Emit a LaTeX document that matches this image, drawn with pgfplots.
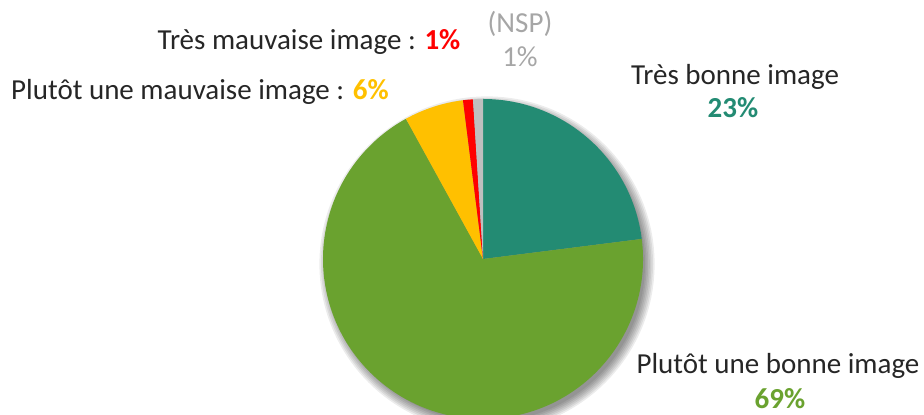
\documentclass[border=0pt]{standalone}
\usepackage{pgfplots}
\usepackage{pgfplotstable}
\pgfplotsset{compat=1.18}
\usepackage{fontspec}
\setmainfont{Carlito}
\definecolor{cTeal}{RGB}{35,139,115}
\definecolor{cGreen}{RGB}{106,162,47}
\definecolor{cYellow}{RGB}{255,192,0}
\definecolor{cRed}{RGB}{255,0,0}
\definecolor{cGray}{RGB}{191,191,191}
\definecolor{cNSP}{RGB}{166,166,166}
\definecolor{cText}{RGB}{38,38,38}

% share of each answer, in percent, clockwise from the top
\pgfplotstableread{
value colour
23 cTeal
69 cGreen
6 cYellow
1 cRed
1 cGray
}\piedata

\pgfplotstablegetrowsof{\piedata}
\pgfmathtruncatemacro{\nrows}{\pgfplotsretval-1}
\def\cumangle{90}
\foreach \i in {0,...,\nrows}{
  \pgfplotstablegetelem{\i}{value}\of\piedata
  \pgfmathsetmacro{\endangle}{\cumangle-3.6*\pgfplotsretval}
  \expandafter\xdef\csname sa\i\endcsname{\cumangle}
  \expandafter\xdef\csname ea\i\endcsname{\endangle}
  \pgfplotstablegetelem{\i}{colour}\of\piedata
  \expandafter\xdef\csname col\i\endcsname{\pgfplotsretval}
  \xdef\cumangle{\endangle}
}

\begin{document}
\begin{tikzpicture}
\begin{axis}[
  hide axis, scale only axis,
  x=0.5pt, y=0.5pt,
  xmin=0, xmax=924, ymin=0, ymax=415,
  clip=true,
  nodes={font=\fontsize{14.5}{17}\selectfont, text=cText, inner sep=0pt},
]
% soft shadow
\pgfplotsinvokeforeach{0,1,2,3,4,5,6}{
  \fill[black, opacity=0.075] (axis cs:487,151) circle[radius={79pt+#1*0.8pt}];
}
% slices
\pgfplotsinvokeforeach{0,...,4}{
  \fill[\csname col#1\endcsname] (axis cs:483,156) -- ++(\csname sa#1\endcsname:80pt)
    arc[start angle=\csname sa#1\endcsname, end angle=\csname ea#1\endcsname, radius=80pt] -- cycle;
}
% labels
\node[anchor=base] at (axis cs:309,365) {Très mauvaise image : \textbf{\color{cRed}1\%}};
\node[anchor=base, text=cNSP] at (axis cs:520,382) {(NSP)};
\node[anchor=base, text=cNSP] at (axis cs:520,348) {1\%};
\node[anchor=base] at (axis cs:200,315) {Plutôt une mauvaise image : \textbf{\color{cYellow}6\%}};
\node[anchor=base] at (axis cs:735,330) {Très bonne image};
\node[anchor=base, text=cTeal] at (axis cs:733,297) {\textbf{23\%}};
\node[anchor=base] at (axis cs:778,41) {Plutôt une bonne image};
\node[anchor=base, text=cGreen] at (axis cs:780,6) {\textbf{69\%}};
\end{axis}
\pgfresetboundingbox
\useasboundingbox (current axis.south west) rectangle (current axis.north east);
\end{tikzpicture}
\end{document}
